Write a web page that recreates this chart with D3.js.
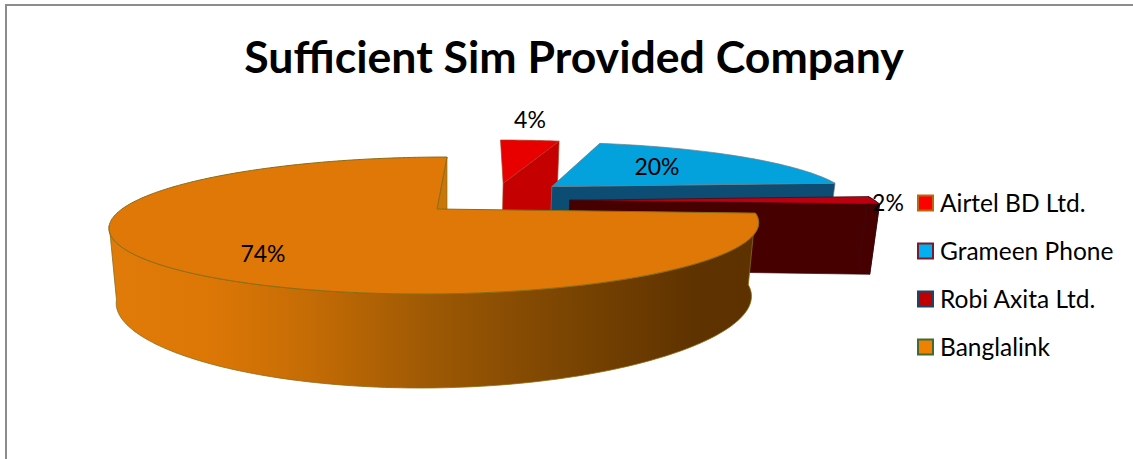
<!DOCTYPE html>
<html><head><meta charset="utf-8">
<script src="https://cdn.jsdelivr.net/npm/d3@7"></script>
<style>html,body{margin:0;padding:0;background:#fff}svg{display:block}text{font-family:Lato,"Open Sans",sans-serif;fill:#000}</style>
</head><body><svg id="c" width="1133" height="459"></svg>
<script>
const title = "Sufficient Sim Provided Company";
const categories = ["Airtel BD Ltd.", "Grameen Phone", "Robi Axita Ltd.", "Banglalink"];
const shares = [4, 20, 2, 74];
const shareLabels = ["4%", "20%", "2%", "74%"];
const topColours = ["#e80000", "#04a2dc", "#bd0010", "#e07808"];
const wallColours = ["#c40000", "#0d4d73", "#470000", "#c97709"];
const edgeColours = ["#b03a20", "#6f7b85", "#3a0a10", "#8a6c14"];
const legendFills = ["#ff0000", "#00b0f0", "#c00000", "#f08000"];
const legendEdges = ["#b8690f", "#7b1a2b", "#17456b", "#3f6b35"];
const explodeX = [0.215, 0.383, 0.43, 0];
const explodeY = [0.44, 0.38, 0.14, 0];
const labelX = [530, 657, 888, 263];
const labelY = [120, 167, 203, 254];

const svg = d3.select("#c");
// frame: left and top rules, the top one runs off the right edge
svg.append("path").attr("d","M6,459V5H1133").attr("fill","none").attr("stroke","#8c8c8c").attr("stroke-width",2);

const defs = svg.append("defs");
const grad = defs.append("linearGradient").attr("id","wall").attr("gradientUnits","userSpaceOnUse")
  .attr("x1",115).attr("x2",757).attr("y1",0).attr("y2",0);
[[0,"#e07a08"],[0.15,"#dc7706"],[0.3,"#c56c05"],[0.5,"#9c5804"],[0.7,"#7b4502"],[0.9,"#5f3300"],[1,"#5e3200"]]
  .forEach(([o,c])=>grad.append("stop").attr("offset",o).attr("stop-color",c));

// perspective projection of the pie plane
const cx = 437, kx = 0.241, skew = 12.4;
const topPlane = {b:315, a:64.5, cy:209, k:0.241};
const basePlane = {b:308, a:75.6, cy:280, k:0.3};
function project(X, Y, plane){
  return [cx + (plane.b*X + skew*Y)/(1 + kx*Y), plane.cy - plane.a*Y/(1 + plane.k*Y)];
}
const pie = d3.pie().sort(null).value(d=>d);
const arcs = pie(shares);
const line = d3.line();
// sweep angle at which the rim turns away from the viewer on the left
const silhouette = 2*Math.PI - Math.acos(-kx);

function rim(start, end, i, plane){
  const n = Math.max(2, Math.ceil((end-start)/0.02));
  return d3.range(n+1).map(j=>{
    const t = start + (end-start)*j/n;
    return project(Math.sin(t)+explodeX[i], Math.cos(t)+explodeY[i], plane);
  });
}
function apex(i, plane){ return project(explodeX[i], explodeY[i], plane); }

arcs.forEach((arc,i)=>{
  const g = svg.append("g").attr("class","slice");
  const topRim = rim(arc.startAngle, arc.endAngle, i, topPlane);
  const baseRim = rim(arc.startAngle, arc.endAngle, i, basePlane);
  const edge = edgeColours[i];
  // cut face at the end of the sweep
  g.append("path").attr("d", line([apex(i,topPlane), topRim[topRim.length-1], baseRim[baseRim.length-1], apex(i,basePlane)])+"Z")
    .attr("fill", wallColours[i]).attr("stroke", edge).attr("stroke-width",0.7);
  // outer wall, only the part that faces the viewer
  if ((arc.startAngle+arc.endAngle)/2 >= Math.PI/2) {
    const stop = Math.min(arc.endAngle, silhouette);
    const wallTop = rim(arc.startAngle, stop, i, topPlane);
    const wallBase = rim(arc.startAngle, stop, i, basePlane);
    g.append("path").attr("d", line(wallTop.concat(wallBase.reverse()))+"Z")
      .attr("fill", i===3 ? "url(#wall)" : wallColours[i]).attr("stroke", edge).attr("stroke-width",0.8);
  }
  // top face
  g.append("path").attr("d", line([apex(i,topPlane)].concat(topRim))+"Z")
    .attr("fill", topColours[i]).attr("stroke", edge).attr("stroke-width",i===3?1:0.7).attr("stroke-linejoin","round");
});

// value labels
svg.append("g").selectAll("text").data(shareLabels).join("text")
  .attr("x",(d,i)=>labelX[i]).attr("y",(d,i)=>labelY[i]).attr("dy","0.35em")
  .attr("text-anchor","middle").attr("font-size",23).text(d=>d);

// title
svg.append("text").attr("x",574).attr("y",73).attr("text-anchor","middle")
  .attr("font-size",44.6).attr("font-weight",700).text(title);

// legend
const legendY = d3.scalePoint().domain(categories).range([203,347]);
const lg = svg.append("g").selectAll("g").data(categories).join("g")
  .attr("transform",d=>`translate(917,${legendY(d)})`);
lg.append("rect").attr("x",1).attr("y",-7.5).attr("width",15).attr("height",15)
  .attr("fill",(d,i)=>legendFills[i]).attr("stroke",(d,i)=>legendEdges[i]).attr("stroke-width",2);
lg.append("text").attr("x",23).attr("dy","0.35em").attr("font-size",24.5).text(d=>d);
</script></body></html>
